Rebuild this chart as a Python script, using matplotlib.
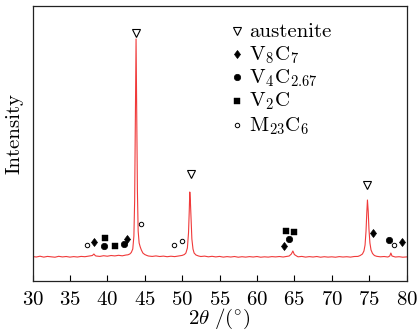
import matplotlib
matplotlib.use("Agg")
import matplotlib.pyplot as plt
from matplotlib.transforms import offset_copy

plt.rcParams['font.family'] = 'serif'
plt.rcParams['font.serif'] = ['cmr10']
plt.rcParams['mathtext.fontset'] = 'cm'
plt.rcParams['axes.formatter.use_mathtext'] = True

# XRD pattern (2theta, intensity a.u.)
two_theta = [30, 30.5, 31, 31.5, 32, 32.5, 33, 33.5, 34, 34.5, 35, 35.5, 36, 36.5, 37, 37.5,
             38.0, 38.2, 38.4,
             38.5, 39, 39.5, 40, 40.5, 41, 41.5, 42, 42.5,
             42.75, 43.0, 43.2, 43.4, 43.55, 43.65, 43.75, 43.84, 43.93, 44.02, 44.12, 44.25,
             44.4, 44.55, 44.75, 45.0, 45.3,
             45.5, 46, 46.5, 47, 47.5, 48, 48.5, 49, 49.5, 50, 50.3,
             50.5, 50.7, 50.85, 50.95, 51.02, 51.1, 51.2, 51.3, 51.45, 51.6, 51.85, 52.2,
             52.5, 53, 53.5, 54, 54.5, 55, 55.5, 56, 56.5, 57, 57.5, 58, 58.5, 59, 59.5, 60,
             60.5, 61, 61.5, 62, 62.5, 63, 63.5, 64,
             64.3, 64.6, 64.8, 65.0, 65.3,
             65.5, 66, 66.5, 67, 67.5, 68, 68.5, 69, 69.5, 70, 70.5, 71, 71.5, 72, 72.5, 73, 73.5,
             73.8, 74.1, 74.3, 74.45, 74.58, 74.68, 74.77, 74.87, 74.97, 75.1, 75.25, 75.45, 75.7, 76,
             76.5, 77, 77.5, 77.75, 77.9, 78.05, 78.5, 79, 79.5, 80]
intensity = [24.5, 24, 24.8, 23.9, 24.6, 24.2, 23.8, 24.7, 24.1, 24.5, 23.9, 24.4, 24.0, 24.6, 24.3, 24.9,
             25.5, 27, 25.3,
             25, 24.6, 25.3, 24.8, 25.5, 25.1, 25.7, 25.2, 26.0,
             26.2, 27, 28.5, 32, 45, 80, 160, 242, 170, 90, 50, 38,
             34, 31, 28, 26.5, 25.5,
             25, 24.6, 25.1, 24.5, 24.9, 24.3, 24.8, 24.4, 25, 25.6, 26.5,
             28, 33, 48, 70, 89, 80, 60, 42, 32, 28, 26, 25,
             24.5, 24.9, 24.2, 24.7, 24.1, 24.6, 23.9, 24.4, 24.0, 24.5, 23.8, 24.3, 23.9, 24.4, 24.0, 24.5,
             23.8, 24.2, 23.9, 24.4, 24.1, 24.5, 24.0, 24.6,
             25, 27, 30, 26.5, 25,
             24.2, 24.6, 23.9, 24.4, 24.0, 24.5, 23.8, 24.3, 23.9, 24.2, 23.8, 24.4, 24.0, 24.3, 23.9, 24.5, 24.6,
             25.5, 27, 30, 36, 50, 68, 81, 70, 52, 38, 31, 27.5, 25.5, 24.7,
             24.2, 24.5, 24.0, 25, 28, 25, 24.0, 24.3, 23.8, 24.1]

# phase markers (2theta, height)
aus_x = [43.88, 51.15, 74.72]
aus_y = [247.7, 106.7, 96]
v8c7_x = [38.18, 42.63, 63.62, 75.52, 79.40]
v8c7_y = [38.7, 41.7, 35, 48.3, 38.7]
v4c_x = [39.6, 42.19, 64.25, 77.70]
v4c_y = [35.3, 36.7, 41.7, 41]
v2c_x = [39.73, 40.99, 63.85, 64.96]
v2c_y = [43.3, 35.3, 49.7, 48.7]
m23_x = [37.29, 44.55, 48.87, 49.99, 78.29]
m23_y = [35.7, 56.7, 35.7, 40.3, 35.7]

labels = ['austenite', r'$\mathrm{V_8C_7}$', r'$\mathrm{V_4C_{2.67}}$', r'$\mathrm{V_2C}$', r'$\mathrm{M_{23}C_6}$']
xticks = [30, 35, 40, 45, 50, 55, 60, 65, 70, 75, 80]

styles = [
    dict(marker='v', ms=6.2, mfc='white', mec='black', mew=0.8),
    dict(marker='d', ms=4.4, mfc='black', mec='black', mew=0.5),
    dict(marker='o', ms=4.6, mfc='black', mec='black', mew=0.5),
    dict(marker='s', ms=5.0, mfc='black', mec='black', mew=0.3),
    dict(marker='o', ms=3.2, mfc='white', mec='black', mew=0.7),
]

fig = plt.figure(figsize=(4.17, 3.31), dpi=100)
ax = fig.add_axes([0.078, 0.151, 0.897, 0.831])

ax.plot(two_theta, intensity, color='#f03a3a', lw=0.8)

for xs, ys, st in zip([aus_x, v8c7_x, v4c_x, v2c_x, m23_x],
                      [aus_y, v8c7_y, v4c_y, v2c_y, m23_y], styles):
    ax.plot(xs, ys, ls='none', **st)

# legend drawn manually (layout)
leg_mx = 0.546
leg_tx = 0.579
leg_y = [0.910, 0.825, 0.741, 0.656, 0.567]
for lab, st, yy in zip(labels, styles, leg_y):
    ax.plot([leg_mx], [yy], ls='none', transform=ax.transAxes, clip_on=False, **st)
    tr = offset_copy(ax.transAxes, fig=fig, x=0, y=-4.5, units='points')
    ax.text(leg_tx, yy, lab, transform=tr, fontsize=15, ha='left', va='baseline')

ax.set_xlim(30, 80)
ax.set_ylim(0, 275)
ax.set_xticks(xticks)
ax.set_yticks([])
ax.tick_params(axis='x', direction='in', length=4, width=0.8, labelsize=15, pad=7.0, top=False)
for s in ax.spines.values():
    s.set_linewidth(0.9)
    s.set_color('#222222')

ax.set_xlabel(r'$2\theta\ /(^{\circ})$', fontsize=15, labelpad=-1.2)
ax.set_ylabel('Intensity', fontsize=15)
ax.yaxis.set_label_coords(-0.024, 0.538)

fig.savefig('out.png', dpi=100)
